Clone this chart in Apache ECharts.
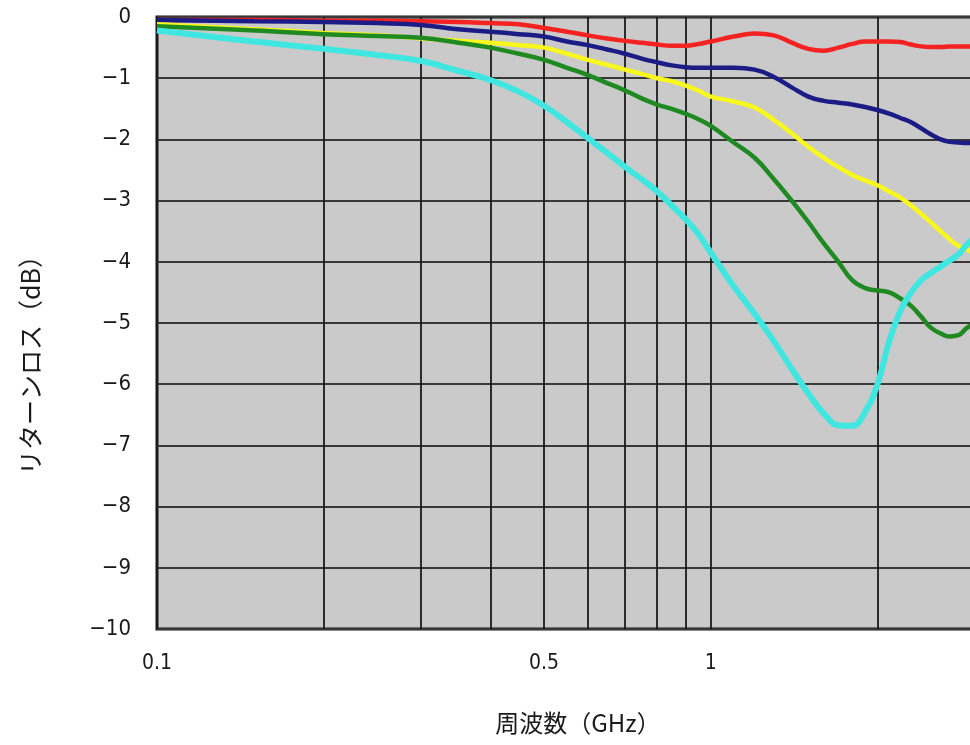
<!DOCTYPE html>
<html>
<head>
<meta charset="utf-8">
<script src="https://cdn.jsdelivr.net/npm/echarts@6/dist/echarts.min.js"></script>
<style>
html,body{margin:0;padding:0;background:#fff;}
#c{width:970px;height:745px;}
</style>
</head>
<body>
<div id="c"></div>
<script>
// Frequency (GHz)
const freqs = [0.1, 0.15, 0.2, 0.25, 0.3, 0.35, 0.4, 0.45, 0.5, 0.55, 0.6, 0.65, 0.7, 0.75, 0.8, 0.85, 0.9, 0.95, 1.0,
  1.1, 1.2, 1.3, 1.4, 1.5, 1.6, 1.7, 1.8, 1.9, 2.0, 2.1, 2.2, 2.3, 2.4, 2.5, 2.6, 2.7, 2.8, 2.9, 3.0];

// Return loss (dB) for each trace
const redVals = [-0.05, -0.05, -0.06, -0.06, -0.07, -0.08, -0.1, -0.12, -0.18, -0.24, -0.3, -0.35, -0.39, -0.42, -0.45, -0.47, -0.47, -0.44, -0.4,
  -0.32, -0.27, -0.3, -0.42, -0.52, -0.55, -0.5, -0.44, -0.4, -0.4, -0.4, -0.41, -0.45, -0.48, -0.49, -0.49, -0.48, -0.48, -0.48, -0.48];
const blueVals = [-0.05, -0.07, -0.08, -0.1, -0.13, -0.2, -0.24, -0.28, -0.32, -0.4, -0.46, -0.53, -0.6, -0.68, -0.74, -0.79, -0.82, -0.83, -0.83,
  -0.83, -0.86, -0.98, -1.15, -1.3, -1.37, -1.4, -1.43, -1.47, -1.52, -1.58, -1.65, -1.72, -1.82, -1.92, -2.0, -2.04, -2.05, -2.06, -2.06];
const yellowVals = [-0.12, -0.2, -0.26, -0.3, -0.35, -0.39, -0.42, -0.46, -0.5, -0.6, -0.7, -0.78, -0.86, -0.93, -1.0, -1.05, -1.12, -1.2, -1.3,
  -1.38, -1.48, -1.68, -1.9, -2.12, -2.3, -2.45, -2.58, -2.67, -2.75, -2.85, -2.95, -3.08, -3.22, -3.36, -3.5, -3.63, -3.74, -3.8, -3.85];
const greenVals = [-0.15, -0.22, -0.28, -0.31, -0.34, -0.42, -0.5, -0.6, -0.7, -0.83, -0.95, -1.08, -1.2, -1.33, -1.43, -1.5, -1.58, -1.67, -1.78,
  -2.05, -2.3, -2.65, -3.0, -3.35, -3.7, -4.0, -4.3, -4.43, -4.47, -4.5, -4.6, -4.72, -4.9, -5.08, -5.17, -5.22, -5.2, -5.08, -5.0];
const cyanVals = [-0.22, -0.4, -0.52, -0.62, -0.72, -0.88, -1.03, -1.22, -1.45, -1.72, -1.98, -2.22, -2.45, -2.65, -2.85, -3.08, -3.3, -3.55, -3.85,
  -4.4, -4.85, -5.3, -5.75, -6.15, -6.48, -6.67, -6.68, -6.45, -6.0, -5.3, -4.8, -4.5, -4.3, -4.18, -4.08, -3.98, -3.88, -3.72, -3.6];

// Axis ticks
const xGridTicks = [0.1, 0.2, 0.3, 0.4, 0.5, 0.6, 0.7, 0.8, 0.9, 1, 2, 3];
const xTickLabels = [0.1, 0.5, 1];
const yMin = -10, yMax = 0, yStep = 1;

const xName = '周波数（GHz）';
const yName = 'リターンロス（dB）';

function pairs(vals) { return freqs.map((f, i) => [f, vals[i]]); }

const chart = echarts.init(document.getElementById('c'), null, {renderer: 'canvas'});
const numFont = "'Liberation Sans Narrow', 'DejaVu Sans Condensed', 'Liberation Sans', sans-serif";
const cjkFont = "'Noto Sans CJK JP', 'Noto Sans', sans-serif";

function line(name, vals, color, width) {
  return {
    name, type: 'line', data: pairs(vals), showSymbol: false, smooth: 0.45,
    lineStyle: {color, width}, itemStyle: {color}, z: 3, silent: true
  };
}

chart.setOption({
  animation: false,
  backgroundColor: '#ffffff',
  grid: {
    left: 157, top: 17, right: -5, bottom: 116,
    show: true, backgroundColor: '#cacaca', borderColor: '#151515', borderWidth: 3,
    outerBoundsMode: 'none'
  },
  xAxis: {
    type: 'log', logBase: 10, min: 0.1, max: 3,
    axisLine: {show: false},
    axisTick: {show: false, customValues: xGridTicks},
    splitLine: {show: true, lineStyle: {color: '#1a1a1a', width: 1.8}},
    minorSplitLine: {show: false},
    axisLabel: {
      customValues: xTickLabels, margin: 24,
      fontSize: 21, color: '#1a1a1a', fontFamily: numFont,
      formatter: v => String(v)
    },
    name: xName, nameLocation: 'middle', nameGap: 82,
    nameTextStyle: {fontSize: 24, color: '#1a1a1a', fontFamily: cjkFont, padding: [0, 0, 0, 24]}
  },
  yAxis: {
    type: 'value', min: yMin, max: yMax, interval: yStep,
    axisLine: {show: false},
    axisTick: {show: false},
    splitLine: {show: true, lineStyle: {color: '#383838', width: 2}},
    axisLabel: {
      margin: 26, fontSize: 22, color: '#1a1a1a', fontFamily: numFont,
      formatter: v => v < 0 ? '\u2212' + Math.abs(v) : String(v)
    },
    name: yName, nameLocation: 'middle', nameGap: 114, nameRotate: 90,
    nameTextStyle: {fontSize: 25, color: '#1a1a1a', fontFamily: cjkFont, padding: [0, 72, 0, 0]}
  },
  series: [
    line('red', redVals, '#f52222', 4.5),
    line('blue', blueVals, '#1c1c86', 4.5),
    line('yellow', yellowVals, '#f8f81c', 4.5),
    line('green', greenVals, '#208a22', 4.5),
    line('cyan', cyanVals, '#40e6e0', 6)
  ]
});
</script>
</body>
</html>
